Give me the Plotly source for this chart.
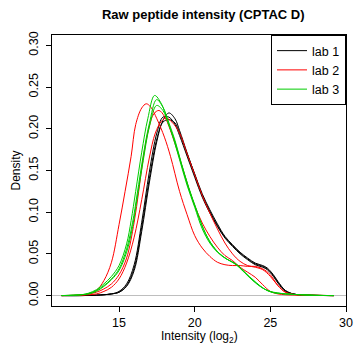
import plotly.graph_objects as go

# ---- data ----
lab1_x = [11.2, 12.5, 13.5, 14, 14.5, 15, 15.5, 16, 16.5, 17, 17.5, 17.9, 18.3, 18.7, 19, 19.5, 20,
          20.5, 21, 21.5, 22, 22.5, 23, 23.5, 24, 24.5, 24.8, 25.2, 25.5, 26, 26.5, 27, 28, 29.2]
lab1_rep1 = [0, 0, 0.0005, 0.001, 0.002, 0.004, 0.011, 0.030, 0.077, 0.135, 0.185, 0.210, 0.219, 0.212,
             0.198, 0.171, 0.145, 0.120, 0.101, 0.084, 0.070, 0.060, 0.051, 0.044, 0.038, 0.035, 0.032,
             0.024, 0.016, 0.006, 0.002, 0.0008, 0.0002, 0]
lab1_rep2 = [0, 0, 0.0005, 0.001, 0.002, 0.005, 0.014, 0.037, 0.088, 0.148, 0.195, 0.214, 0.214, 0.205,
             0.192, 0.167, 0.142, 0.118, 0.099, 0.083, 0.069, 0.059, 0.050, 0.043, 0.037, 0.034, 0.031,
             0.023, 0.015, 0.005, 0.002, 0.0008, 0.0002, 0]
lab1_rep3 = [0, 0, 0.0005, 0.001, 0.002, 0.004, 0.012, 0.033, 0.082, 0.140, 0.188, 0.208, 0.211, 0.207,
             0.195, 0.170, 0.146, 0.122, 0.103, 0.086, 0.071, 0.061, 0.052, 0.045, 0.039, 0.036, 0.033,
             0.025, 0.017, 0.006, 0.002, 0.0008, 0.0002, 0]

lab2_rep1_x = [11.2, 12.5, 13, 13.5, 14, 14.5, 15, 15.4, 15.8, 16.1, 16.5, 16.8, 17.1, 17.5, 18, 18.4, 19,
               19.5, 20, 20.5, 21, 21.5, 22, 22.5, 23, 23.5, 24, 24.5, 25, 25.5, 26, 26.5, 27, 28, 29.2]
lab2_rep1 = [0, 0.0005, 0.002, 0.006, 0.018, 0.040, 0.085, 0.125, 0.167, 0.205, 0.225, 0.230, 0.226, 0.212,
             0.190, 0.167, 0.125, 0.097, 0.072, 0.057, 0.047, 0.040, 0.037, 0.036, 0.036, 0.035, 0.035,
             0.032, 0.025, 0.012, 0.004, 0.0015, 0.0008, 0.0003, 0]
lab2_rep2_x = [11.2, 12.5, 13, 13.5, 14, 14.5, 15, 15.5, 16, 16.3, 16.6, 17, 17.3, 17.64, 18, 18.4, 19,
               19.5, 20, 20.5, 21, 21.5, 22, 22.5, 23, 23.5, 24, 24.5, 25, 25.5, 26, 27, 28, 29.2]
lab2_rep2 = [0, 0.0008, 0.002, 0.004, 0.008, 0.014, 0.025, 0.045, 0.088, 0.125, 0.165, 0.203, 0.218, 0.222,
             0.215, 0.198, 0.165, 0.135, 0.108, 0.087, 0.071, 0.058, 0.048, 0.042, 0.034, 0.028, 0.022,
             0.013, 0.005, 0.002, 0.001, 0.0005, 0.0002, 0]
lab2_rep3_x = [11.2, 12.5, 13.5, 14, 14.5, 15, 15.5, 16, 16.5, 17, 17.4, 17.8, 18.1, 18.5, 19, 19.5, 20,
               20.5, 21, 21.5, 22, 22.5, 23, 23.5, 24, 24.5, 25, 25.5, 26, 26.5, 27, 28, 29.2]
lab2_rep3 = [0, 0.0005, 0.002, 0.005, 0.010, 0.020, 0.039, 0.070, 0.115, 0.165, 0.195, 0.209, 0.213, 0.208,
             0.195, 0.170, 0.145, 0.120, 0.099, 0.080, 0.063, 0.050, 0.041, 0.036, 0.034, 0.031, 0.023,
             0.012, 0.004, 0.0015, 0.0008, 0.0003, 0]

lab3_rep1_x = [11.2, 12.5, 13, 13.5, 14, 14.5, 15, 15.5, 15.8, 16.1, 16.5, 16.9, 17.35, 17.8, 18.2, 18.6,
               19, 19.5, 20, 20.5, 21, 21.5, 22, 22.3, 22.7, 23, 23.5, 24, 24.5, 25, 26, 27, 28, 29.2]
lab3_rep1 = [0, 0.001, 0.003, 0.007, 0.014, 0.023, 0.036, 0.062, 0.090, 0.125, 0.172, 0.212, 0.240, 0.230,
             0.210, 0.188, 0.163, 0.132, 0.106, 0.080, 0.063, 0.052, 0.045, 0.042, 0.038, 0.033, 0.024,
             0.016, 0.009, 0.005, 0.002, 0.001, 0.0003, 0]
lab3_rep23_x = [11.2, 12.5, 13, 13.5, 14, 14.5, 15, 15.5, 15.9, 16.2, 16.6, 17.0, 17.48, 17.9, 18.3, 18.7,
                19.1, 19.6, 20.1, 20.6, 21.1, 21.6, 22.1, 22.4, 22.8, 23.1, 23.6, 24.1, 24.6, 25.1, 26,
                27, 28, 29.2]
lab3_rep2 = [0, 0.001, 0.0025, 0.006, 0.012, 0.020, 0.032, 0.056, 0.088, 0.122, 0.168, 0.206, 0.235, 0.226,
             0.207, 0.186, 0.160, 0.130, 0.104, 0.079, 0.062, 0.051, 0.044, 0.041, 0.037, 0.032, 0.023,
             0.015, 0.008, 0.004, 0.002, 0.001, 0.0003, 0]
lab3_rep3 = [0, 0.001, 0.002, 0.005, 0.011, 0.019, 0.030, 0.052, 0.083, 0.117, 0.162, 0.202, 0.228, 0.222,
             0.204, 0.184, 0.159, 0.129, 0.103, 0.079, 0.062, 0.051, 0.044, 0.041, 0.036, 0.031, 0.022,
             0.014, 0.008, 0.004, 0.002, 0.001, 0.0003, 0]

x_ticks = [15, 20, 25, 30]
y_ticks = [0.00, 0.05, 0.10, 0.15, 0.20, 0.25, 0.30]
y_ticklabels = ["0.00", "0.05", "0.10", "0.15", "0.20", "0.25", "0.30"]

labs = ["lab 1", "lab 2", "lab 3"]
colors = ["#000000", "#FF0000", "#00CD00"]

curves = [
    (0, lab1_x, lab1_rep1), (0, lab1_x, lab1_rep2), (0, lab1_x, lab1_rep3),
    (1, lab2_rep1_x, lab2_rep1), (1, lab2_rep2_x, lab2_rep2), (1, lab2_rep3_x, lab2_rep3),
    (2, lab3_rep1_x, lab3_rep1), (2, lab3_rep23_x, lab3_rep2), (2, lab3_rep23_x, lab3_rep3),
]

fig = go.Figure()
shown = set()
for lab_i, xs, ys in curves:
    fig.add_trace(go.Scatter(
        x=xs, y=ys, mode="lines",
        line=dict(color=colors[lab_i], width=1, shape="spline", smoothing=1.0),
        name=labs[lab_i], legendgroup=labs[lab_i],
        showlegend=lab_i not in shown,
    ))
    shown.add(lab_i)

FONT = "Liberation Sans, Arial, sans-serif"
fig.update_layout(
    width=361, height=345,
    margin=dict(l=52, r=8, t=35, b=39),
    paper_bgcolor="white", plot_bgcolor="white",
    font=dict(family=FONT, size=12, color="black"),
    title=dict(text="<b>Raw peptide intensity (CPTAC D)</b>", x=0.563, xanchor="center",
               y=1 - 14 / 345, yanchor="middle", font=dict(size=13, family=FONT)),
    showlegend=True,
    legend=dict(x=1, xanchor="right", y=1, yanchor="top", bordercolor="black", borderwidth=1,
                bgcolor="white", font=dict(size=12.5), tracegroupgap=0),
    annotations=[dict(text="Intensity (log<sub>2</sub>)", xref="paper", yref="paper",
                      x=0.5, y=(306 - 337) / 271, xanchor="center", yanchor="middle",
                      showarrow=False, font=dict(size=12))],
)
fig.update_xaxes(range=[10.57, 30.0], tickvals=x_ticks, ticks="outside", ticklen=5, tickcolor="black",
                 showline=True, mirror=True, linecolor="black", linewidth=1, showgrid=False,
                 zeroline=False, ticklabelstandoff=0, tickfont=dict(size=12.5))
fig.update_yaxes(range=[-0.0125, 0.3125], tickvals=y_ticks, ticktext=y_ticklabels, tickangle=-90,
                 ticks="outside", ticklen=5, tickcolor="black", showline=True, mirror=True,
                 linecolor="black", linewidth=1, showgrid=False, zeroline=True,
                 zerolinecolor="#BEBEBE", zerolinewidth=1, ticklabelstandoff=3,
                 title=dict(text="Density", standoff=3, font=dict(size=12)), tickfont=dict(size=12.5))

fig.write_html("out.html")
